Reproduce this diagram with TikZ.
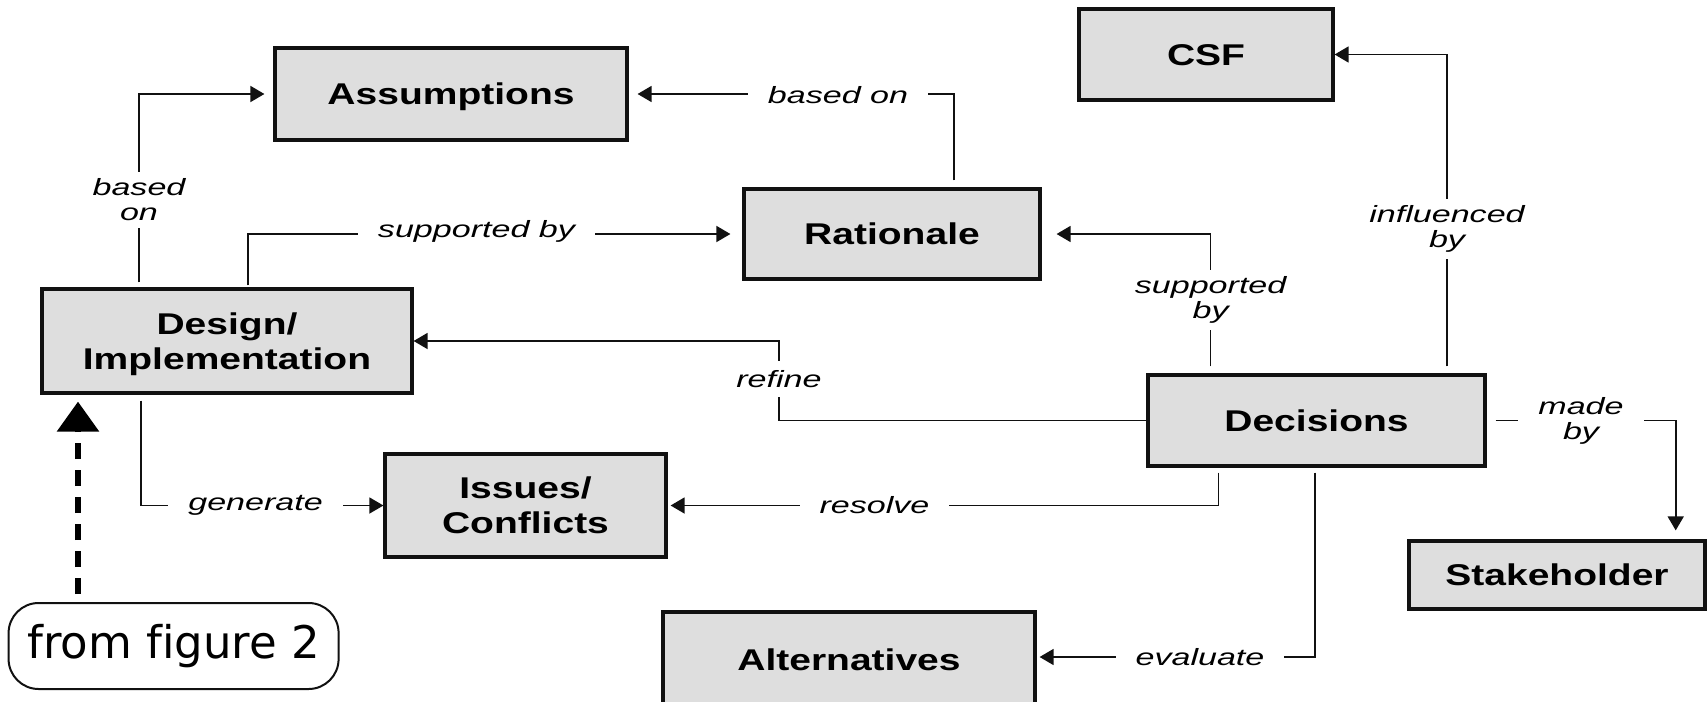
\documentclass[tikz,border=0pt]{standalone}
\usepackage{fontspec}
\newfontfamily\boxfont{Liberation Sans}[FakeStretch=1.3]
\newfontfamily\labelfont{Liberation Sans}[FakeStretch=1.45]
\newfontfamily\notefont{DejaVu Sans}[Ligatures=NoCommon]
\usetikzlibrary{arrows.meta}
\definecolor{boxgray}{HTML}{DEDEDE}
\definecolor{ink}{HTML}{111111}

% box captions: the capitals are centred, descenders do not count
\newcommand\capone[1]{\raisebox{0pt}[21.5pt][0pt]{#1}}
\newcommand\captwo[2]{\raisebox{0pt}[21.5pt][35pt]{%
  \begin{tabular}[t]{@{}c@{}}#1\\#2\end{tabular}}}

\tikzset{
  entity/.style={draw=ink, line width=3.2pt, fill=boxgray,
    inner sep=0pt, text=black,
    font=\boxfont\bfseries\fontsize{30}{35}\selectfont},
  rel/.style={draw=ink, line width=1.6pt, -{Triangle[length=14pt,width=16pt]}},
  lbl/.style={fill=white, align=center, inner xsep=20pt, inner ysep=7pt,
    font=\labelfont\itshape\fontsize{23.5}{25}\selectfont},
  bigdash/.style={draw=black, line width=6pt, dash pattern=on 16pt off 11pt,
    -{Triangle[length=30pt,width=41pt]}},
}

\begin{document}
\begin{tikzpicture}[x=1pt, y=-1pt]
  \useasboundingbox (0,0) rectangle (1707,701);
  \fill[white] (0,0) rectangle (1707,701);
  \clip (0,0) rectangle (1707,701);

  % concept boxes
  \node[entity, minimum width=352pt, minimum height=92pt]  (asm) at (451,94)       {\capone{Assumptions}};
  \node[entity, minimum width=254pt, minimum height=91pt]  (csf) at (1206,54.5)    {\capone{CSF}};
  \node[entity, minimum width=296pt, minimum height=90pt]  (rat) at (892,234)      {\capone{Rationale}};
  \node[entity, minimum width=370pt, minimum height=104pt] (des) at (227,341)      {\captwo{Design/}{Implementation}};
  \node[entity, minimum width=337pt, minimum height=91pt]  (dec) at (1316.5,420.5) {\capone{Decisions}};
  \node[entity, minimum width=281pt, minimum height=103pt] (iss) at (525.5,505.5)  {\captwo{Issues/}{Conflicts}};
  \node[entity, minimum width=296pt, minimum height=68pt]  (stk) at (1557,575)     {\capone{Stakeholder}};
  \node[entity, minimum width=372pt, minimum height=96pt]  (alt) at (849,660)      {\capone{Alternatives}};

  % entry point from the previous figure
  \node[draw=ink, line width=2pt, rounded corners=30pt, minimum width=330pt,
        minimum height=86pt, inner sep=0pt,
        font=\notefont\fontsize{45}{50}\selectfont] (fig) at (173.6,646) {from figure 2};

  % relations
  \draw[rel, shorten <=5pt, shorten >=9pt]  (139,0 |- des.north) |- (asm.west);
  \draw[rel, shorten <=2pt, shorten >=12pt] (248,0 |- des.north) |- (rat.west);
  \draw[rel, shorten <=7pt, shorten >=9pt]  (954,0 |- rat.north) |- (asm.east);
  \draw[rel, shorten <=7pt, shorten >=15pt] (1210.6,0 |- dec.north) |- (rat.east);
  \draw[rel, shorten <=7pt]                 (1447,0 |- dec.north) |- (csf.east);
  \draw[rel]                                (dec.west) -| (779,380) |- (des.east);
  \draw[rel, shorten <=5pt, shorten >=3pt]  (1218.4,0 |- dec.south) |- (iss.east);
  \draw[rel, shorten <=5pt, shorten >=3pt]  (1315,0 |- dec.south) |- ([yshift=3pt]alt.east);
  \draw[rel, shorten <=9pt, shorten >=9pt]  (dec.east) -| (1675.7,0 |- stk.north);
  \draw[rel, shorten <=6pt]                 (141,0 |- des.south) |- (iss.west);
  \draw[bigdash, shorten <=8pt, shorten >=7pt] (78,0 |- fig.north) -- (78,0 |- des.south);

  % relation labels
  \node[lbl] (lBasedA)  at (139,200)     {based\\on};
  \node[lbl] (lSuppD)   at (476.5,231)   {supported by};
  \node[lbl] (lBasedR)  at (838,95)      {based on};
  \node[lbl] (lSuppDec) at (1210.6,300)  {supported\\by};
  \node[lbl] (lInfl)    at (1447,229)    {influenced\\by};
  \node[lbl, inner ysep=9pt] (lRefine) at (779,379) {refine};
  \node[lbl] (lResolve) at (874.5,505.5) {resolve};
  \node[lbl] (lEval)    at (1200,657)    {evaluate};
  \node[lbl] (lMade)    at (1581,421)    {made\\by};
  \node[lbl] (lGen)     at (255.6,505.5) {generate};
\end{tikzpicture}
\end{document}
